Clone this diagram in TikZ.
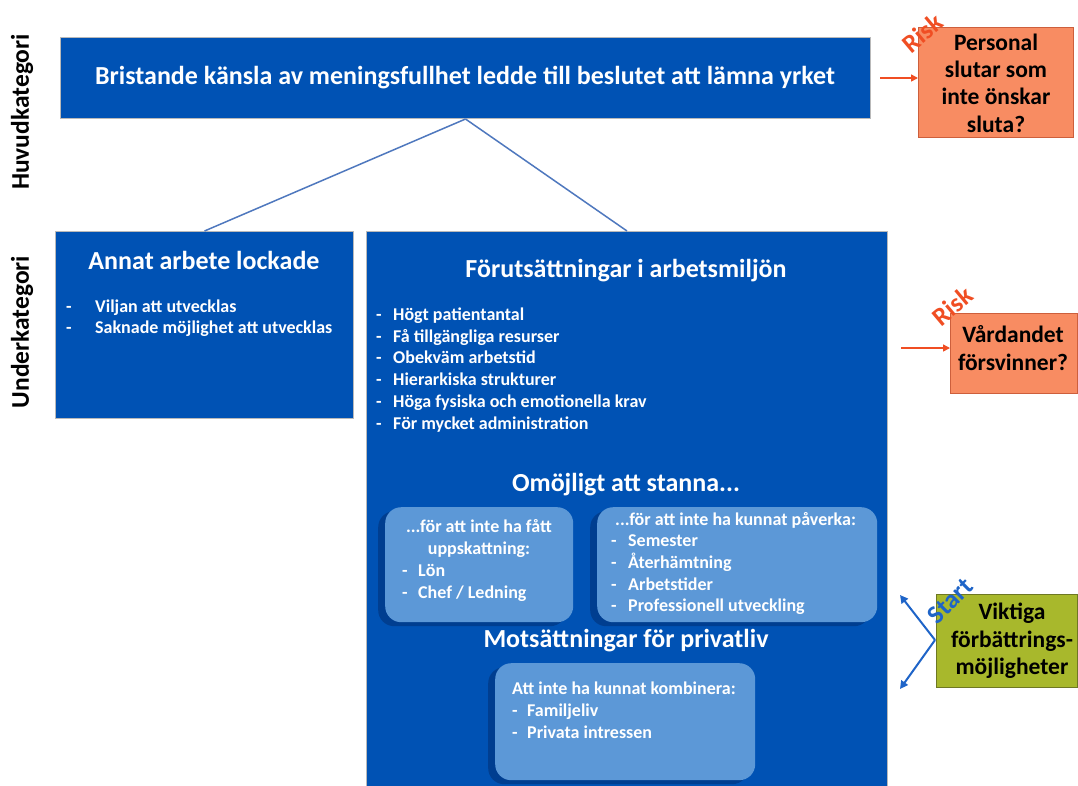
\documentclass[tikz,border=0pt]{standalone}
\usepackage{fontspec}
\setmainfont{Carlito}
\usetikzlibrary{arrows.meta}
\definecolor{mainblue}{RGB}{0,82,180}
\definecolor{lightbox}{RGB}{92,152,215}
\definecolor{shadowblue}{RGB}{0,50,120}
\definecolor{connblue}{RGB}{79,120,190}
\definecolor{riskorange}{RGB}{248,140,98}
\definecolor{riskborder}{RGB}{205,95,60}
\definecolor{riskred}{RGB}{240,78,35}
\definecolor{olive}{RGB}{168,184,44}
\definecolor{oliveborder}{RGB}{110,120,35}
\definecolor{startblue}{RGB}{30,100,200}
\tikzset{
  bluebox/.style={draw=gray!55, line width=1pt, fill=mainblue, anchor=north west, inner sep=0pt},
  roundbox/.style={fill=lightbox, rounded corners=16pt, anchor=north west, inner sep=0pt},
  roundshadow/.style={fill=shadowblue, opacity=0.6, rounded corners=16pt, anchor=north west, inner sep=0pt},
  riskbox/.style={draw=riskborder, line width=1pt, fill=riskorange, inner sep=0pt, anchor=north west},
  greenbox/.style={draw=oliveborder, line width=1pt, fill=olive, inner sep=0pt, anchor=north west},
  bigtitle/.style={text=white, font=\fontsize{26}{30}\selectfont\bfseries, inner sep=0pt},
  itemtxt/.style={text=white, font=\fontsize{18}{21}\selectfont\bfseries, inner sep=0pt, anchor=west, text height=12.5pt, text depth=4pt},
  sidetxt/.style={text=black, font=\fontsize{23.5}{27.4}\selectfont\bfseries, align=center, inner sep=0pt},
  catlabel/.style={text=black, font=\fontsize{25.5}{28}\selectfont\bfseries, rotate=90, inner sep=0pt},
  conn/.style={draw=connblue, line width=1.5pt},
  riskarrow/.style={draw=riskred, line width=1.5pt, -{Triangle[length=7pt,width=7pt]}},
  startarrow/.style={draw=startblue, line width=2pt, -{Triangle[length=8pt,width=8pt]}},
  risklabel/.style={text=riskred, font=\fontsize{26}{28}\selectfont\bfseries, inner sep=0pt},
}
\begin{document}
\begin{tikzpicture}[x=1pt,y=-1pt]
\useasboundingbox[fill=white] (0,0) rectangle (1078,785);

% vertical labels
\node[catlabel] (huvud) at (22,112) {Huvudkategori};
\node[catlabel] (under) at (22,332) {Underkategori};

% top box
\node[bluebox, minimum width=810pt, minimum height=81pt] (top) at (60,37) {};
\node[bigtitle] (toptxt) at (465,78) {Bristande känsla av meningsfullhet ledde till beslutet att lämna yrket};

% left box
\node[bluebox, minimum width=298pt, minimum height=187pt] (annat) at (55,231) {};
\node[bigtitle] (annattxt) at (204,260) {Annat arbete lockade};
\node[itemtxt] (a1d) at (66,308) {-};
\node[itemtxt] (a1) at (95,308) {Viljan att utvecklas};
\node[itemtxt] (a2d) at (66,329) {-};
\node[itemtxt] (a2) at (95,329) {Saknade möjlighet att utvecklas};

% big box
\node[bluebox, minimum width=521pt, minimum height=560pt] (forut) at (366,231) {};
\node[bigtitle] (foruttxt) at (626,271) {Förutsättningar i arbetsmiljön};
\foreach \t [count=\i] in {Högt patientantal, Få tillgängliga resurser, Obekväm arbetstid, Hierarkiska strukturer, Höga fysiska och emotionella krav, För mycket administration}{
  \node[itemtxt] (fd\i) at (376,{316+21.8*(\i-1)}) {-};
  \node[itemtxt] (f\i) at (393,{316+21.8*(\i-1)}) {\t};
}

% Omöjligt att stanna
\node[bigtitle] (omoj) at (626,485) {Omöjligt att stanna...};
\node[roundshadow, minimum width=188pt, minimum height=115pt] (s1) at (378,511) {};
\node[roundbox, minimum width=188pt, minimum height=115pt] (b1) at (385,507) {};
\node[itemtxt, anchor=center] (b1t1) at (479,528) {...för att inte ha fått};
\node[itemtxt, anchor=center] (b1t2) at (479,550) {uppskattning:};
\node[itemtxt] (b1d1) at (402,572) {-};
\node[itemtxt] (b1i1) at (418,572) {Lön};
\node[itemtxt] (b1d2) at (402,594) {-};
\node[itemtxt] (b1i2) at (418,594) {Chef / Ledning};

\node[roundshadow, minimum width=280pt, minimum height=115pt] (s2) at (590,511) {};
\node[roundbox, minimum width=280pt, minimum height=115pt] (b2) at (597,507) {};
\node[itemtxt] (b2t) at (615,521) {...för att inte ha kunnat påverka:};
\foreach \t [count=\i] in {Semester, Återhämtning, Arbetstider, Professionell utveckling}{
  \node[itemtxt] (b2d\i) at (611,{542+21.9*(\i-1)}) {-};
  \node[itemtxt] (b2i\i) at (628,{542+21.9*(\i-1)}) {\t};
}

% Motsättningar
\node[bigtitle] (mots) at (626,641) {Motsättningar för privatliv};
\node[roundshadow, minimum width=260pt, minimum height=117pt] (s3) at (488,667) {};
\node[roundbox, minimum width=260pt, minimum height=117pt] (b3) at (495,663) {};
\node[itemtxt] (b3t) at (512,690) {Att inte ha kunnat kombinera:};
\node[itemtxt] (b3d1) at (512,712) {-};
\node[itemtxt] (b3i1) at (527,712) {Familjeliv};
\node[itemtxt] (b3d2) at (512,734) {-};
\node[itemtxt] (b3i2) at (527,734) {Privata intressen};

% connectors
\draw[conn] (top.south) -- (annat.north);
\draw[conn] (top.south) -- (forut.north);

% right side: risk 1
\node[riskbox, minimum width=155pt, minimum height=110pt] (riskA) at (918,27) {};
\node[sidetxt] (riskAt) at (996,83) {Personal\\slutar som\\inte önskar\\sluta?};
\coordinate (rA0) at (880,78);
\draw[riskarrow] (rA0) -- (riskA.west |- rA0);
\node[risklabel, rotate=40] (riskAl) at (922,33) {Risk};

% risk 2
\node[riskbox, minimum width=127pt, minimum height=80pt] (riskB) at (950,313) {};
\node[sidetxt] (riskBt) at (1013,348) {Vårdandet\\försvinner?};
\coordinate (rB0) at (901,348);
\draw[riskarrow] (rB0) -- (riskB.west |- rB0);
\node[risklabel, rotate=40] (riskBl) at (952,306) {Risk};

% start
\node[greenbox, minimum width=141pt, minimum height=93pt] (startbox) at (936,594) {};
\node[sidetxt] (startt) at (1012,641) {Viktiga\\förbättrings-\\möjligheter};
\coordinate (apex) at (935,640);
\coordinate (tipU) at (900,595);
\coordinate (tipD) at (900,689);
\draw[startarrow] (apex) -- (tipU);
\draw[startarrow] (apex) -- (tipD);
\node[text=startblue, font=\fontsize{26}{28}\selectfont\bfseries, rotate=45, inner sep=0pt] (startl) at (950,601) {Start};
\end{tikzpicture}
\end{document}
